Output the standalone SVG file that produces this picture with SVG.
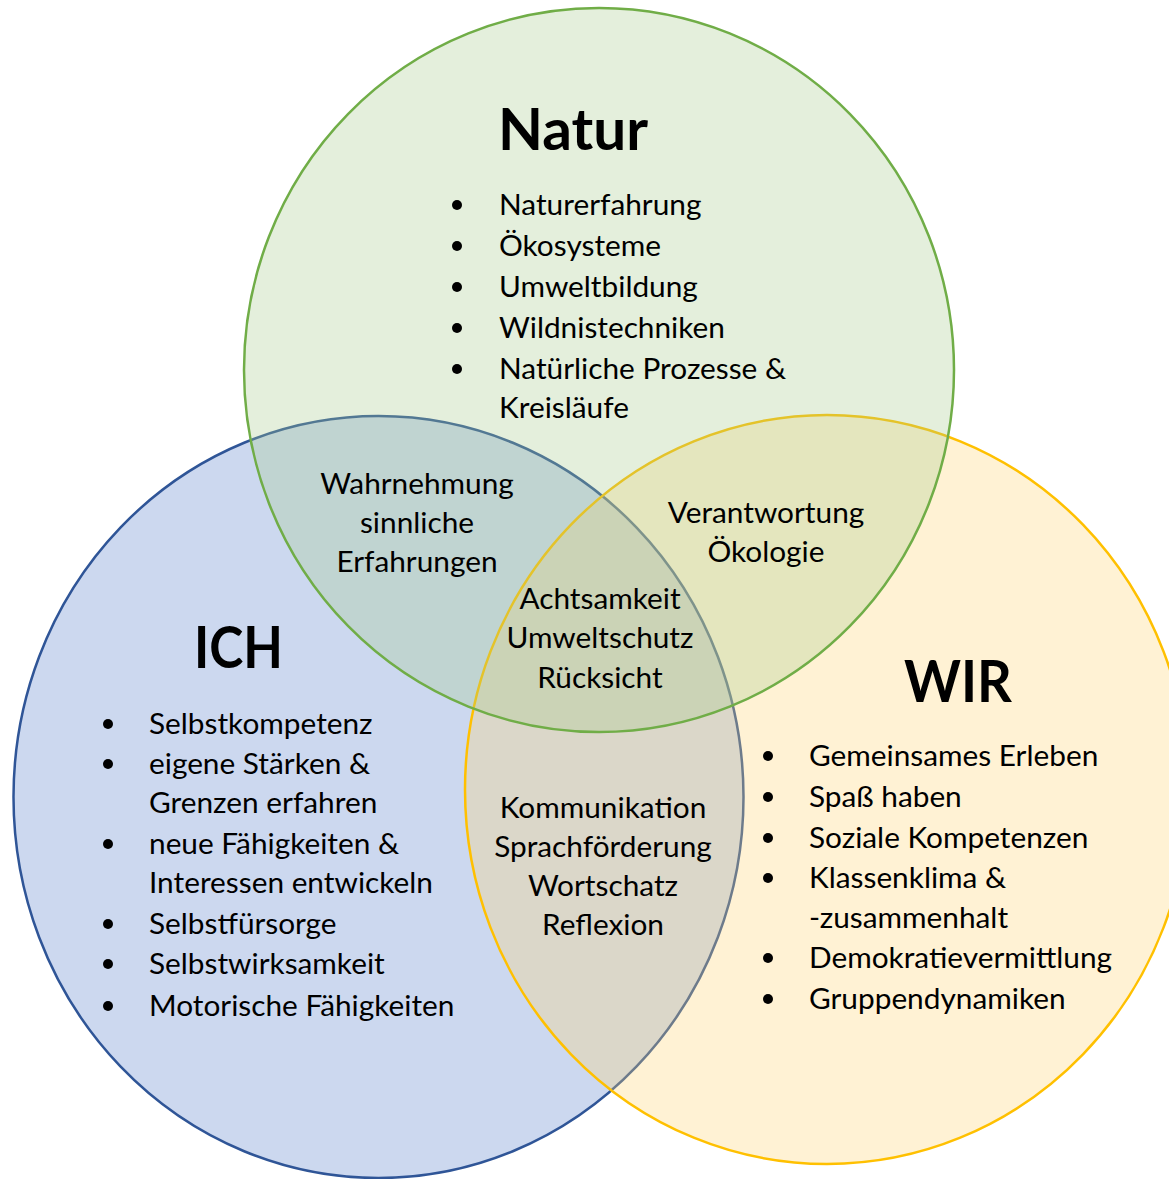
<svg xmlns="http://www.w3.org/2000/svg" width="1169" height="1179" viewBox="0 0 1169 1179">
<style>
.t{font-family:Lato,"Liberation Sans",sans-serif;font-size:29.8px;fill:#000}
.h{font-family:Lato,"Liberation Sans",sans-serif;font-size:58px;font-weight:bold;fill:#000}
.c{text-anchor:middle}
.b{fill:#000}
</style>
<rect width="1169" height="1179" fill="#fff"/>
<g id="ich-circle"><ellipse cx="378.5" cy="797" rx="365" ry="381" fill="#CCD8EF" stroke="#2F5597" stroke-width="2.5"/></g>
<g id="wir-circle"><ellipse cx="827" cy="789.5" rx="362" ry="374.5" fill="#FFD470" fill-opacity="0.3" stroke="#FFC000" stroke-width="2.5"/></g>
<g id="natur-circle"><ellipse cx="599" cy="370" rx="355" ry="362" fill="#A5CA8A" fill-opacity="0.3" stroke="#70AD47" stroke-width="2.5"/></g>

<g id="natur">
<text class="h" x="498" y="150" textLength="150" lengthAdjust="spacingAndGlyphs">Natur</text>
<circle class="b" cx="457" cy="205" r="5"/><text class="t" x="499" y="215">Naturerfahrung</text>
<circle class="b" cx="457" cy="246" r="5"/><text class="t" x="499" y="256">Ökosysteme</text>
<circle class="b" cx="457" cy="287" r="5"/><text class="t" x="499" y="297">Umweltbildung</text>
<circle class="b" cx="457" cy="328" r="5"/><text class="t" x="499" y="338">Wildnistechniken</text>
<circle class="b" cx="457" cy="369" r="5"/><text class="t" x="499" y="379">Natürliche Prozesse &amp;</text>
<text class="t" x="499" y="418">Kreisläufe</text>
</g>

<g id="natur-ich">
<text class="t c" x="417" y="494">Wahrnehmung</text>
<text class="t c" x="417" y="533">sinnliche</text>
<text class="t c" x="417" y="572">Erfahrungen</text>
</g>

<g id="natur-wir">
<text class="t c" x="766" y="523">Verantwortung</text>
<text class="t c" x="766" y="562">Ökologie</text>
</g>

<g id="center">
<text class="t c" x="600" y="609">Achtsamkeit</text>
<text class="t c" x="600" y="648">Umweltschutz</text>
<text class="t c" x="600" y="688">Rücksicht</text>
</g>

<g id="ich-wir">
<text class="t c" x="603" y="818">Kommunikation</text>
<text class="t c" x="603" y="857">Sprachförderung</text>
<text class="t c" x="603" y="896">Wortschatz</text>
<text class="t c" x="603" y="935">Reflexion</text>
</g>

<g id="ich">
<text class="h" x="194" y="668" textLength="89" lengthAdjust="spacingAndGlyphs">ICH</text>
<circle class="b" cx="108" cy="724" r="5"/><text class="t" x="149" y="734">Selbstkompetenz</text>
<circle class="b" cx="108" cy="764" r="5"/><text class="t" x="149" y="774">eigene Stärken &amp;</text>
<text class="t" x="149" y="813">Grenzen erfahren</text>
<circle class="b" cx="108" cy="844" r="5"/><text class="t" x="149" y="854">neue Fähigkeiten &amp;</text>
<text class="t" x="149" y="893">Interessen entwickeln</text>
<circle class="b" cx="108" cy="924" r="5"/><text class="t" x="149" y="934">Selbstfürsorge</text>
<circle class="b" cx="108" cy="964" r="5"/><text class="t" x="149" y="974">Selbstwirksamkeit</text>
<circle class="b" cx="108" cy="1006" r="5"/><text class="t" x="149" y="1016">Motorische Fähigkeiten</text>
</g>

<g id="wir">
<text class="h" x="904" y="702" textLength="108" lengthAdjust="spacingAndGlyphs">WIR</text>
<circle class="b" cx="768" cy="756" r="5"/><text class="t" x="809" y="766">Gemeinsames Erleben</text>
<circle class="b" cx="768" cy="797" r="5"/><text class="t" x="809" y="807">Spaß haben</text>
<circle class="b" cx="768" cy="838" r="5"/><text class="t" x="809" y="848">Soziale Kompetenzen</text>
<circle class="b" cx="768" cy="878" r="5"/><text class="t" x="809" y="888">Klassenklima &amp;</text>
<text class="t" x="809" y="928">-zusammenhalt</text>
<circle class="b" cx="768" cy="958" r="5"/><text class="t" x="809" y="968">Demokratievermittlung</text>
<circle class="b" cx="768" cy="999" r="5"/><text class="t" x="809" y="1009">Gruppendynamiken</text>
</g>
</svg>
